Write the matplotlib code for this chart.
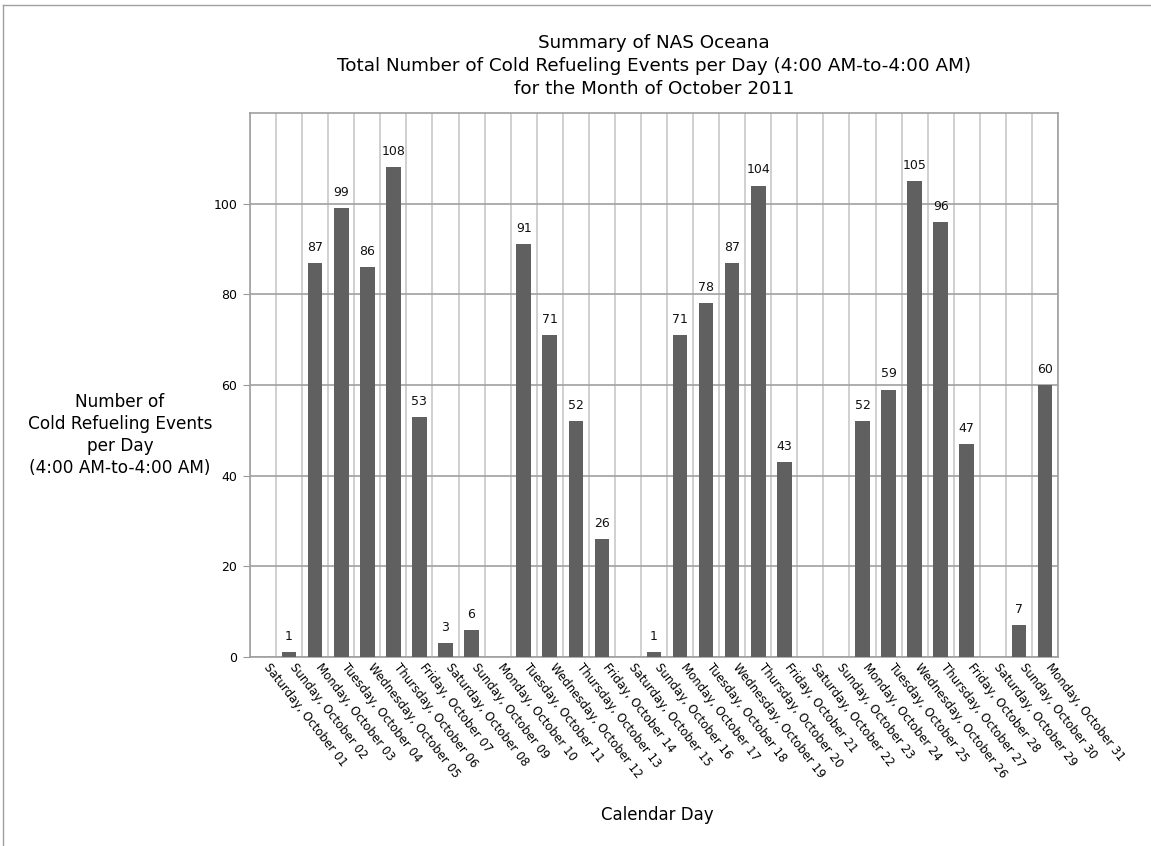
import matplotlib
matplotlib.use("Agg")
import matplotlib.pyplot as plt
import matplotlib.transforms as mtransforms
from matplotlib.lines import Line2D

# 每日冷加油次数 (2011年10月)
day_labels = [
    "Saturday, October 01", "Sunday, October 02", "Monday, October 03",
    "Tuesday, October 04", "Wednesday, October 05", "Thursday, October 06",
    "Friday, October 07", "Saturday, October 08", "Sunday, October 09",
    "Monday, October 10", "Tuesday, October 11", "Wednesday, October 12",
    "Thursday, October 13", "Friday, October 14", "Saturday, October 15",
    "Sunday, October 16", "Monday, October 17", "Tuesday, October 18",
    "Wednesday, October 19", "Thursday, October 20", "Friday, October 21",
    "Saturday, October 22", "Sunday, October 23", "Monday, October 24",
    "Tuesday, October 25", "Wednesday, October 26", "Thursday, October 27",
    "Friday, October 28", "Saturday, October 29", "Sunday, October 30",
    "Monday, October 31",
]
events = [0, 1, 87, 99, 86, 108, 53, 3, 6, 0, 91, 71, 52, 26, 0, 1,
          71, 78, 87, 104, 43, 0, 0, 52, 59, 105, 96, 47, 0, 7, 60]
y_ticks = [0, 20, 40, 60, 80, 100]

plt.rcParams['font.family'] = ['DejaVu Sans']

fig = plt.figure(figsize=(11.51, 8.46), dpi=100)
ax = fig.add_axes([250 / 1151, 1 - 657 / 846, 808 / 1151, 544 / 846])

x = list(range(len(events)))
ax.bar(x, events, width=0.56, color='#606060', zorder=3)

# 柱顶数值
for xi, v in zip(x, events):
    if v > 0:
        ax.text(xi, v + 2.0, str(v), ha='center', va='bottom', fontsize=9, color='#111111', zorder=4)

ax.set_xlim(-0.5, len(events) - 0.5)
ax.set_ylim(0, 120)
ax.set_yticks(y_ticks)
ax.set_yticklabels([str(t) for t in y_ticks], fontsize=9)

ax.set_xticks(x)
ax.set_xticklabels(day_labels, rotation=-52, ha='left', va='top',
                   rotation_mode='anchor', fontsize=8.5)
ax.tick_params(axis='x', length=0, pad=3)
ax.tick_params(axis='y', length=5, color='#999999', pad=4)

# 刻度标签向右挪一点
offset = mtransforms.ScaledTranslation(8 / 100, 0, fig.dpi_scale_trans)
for lab in ax.get_xticklabels():
    lab.set_transform(lab.get_transform() + offset)

# 网格线
ax.set_xticks([i - 0.5 for i in range(len(events) + 1)], minor=True)
ax.tick_params(axis='x', which='minor', length=0)
ax.grid(True, axis='x', which='minor', color='#c8c8c8', linewidth=1.2, zorder=0)
ax.grid(True, axis='y', which='major', color='#a0a0a0', linewidth=1.2, zorder=0)
for s in ax.spines.values():
    s.set_color('#a0a0a0')
    s.set_linewidth(1.2)

fig.text(654 / 1151, 1 - 43 / 846, "Summary of NAS Oceana", ha='center', va='center', fontsize=13.2)
fig.text(654 / 1151, 1 - 66 / 846, "Total Number of Cold Refueling Events per Day (4:00 AM-to-4:00 AM)",
         ha='center', va='center', fontsize=13.2)
fig.text(654 / 1151, 1 - 89 / 846, "for the Month of October 2011", ha='center', va='center', fontsize=13.2)

fig.text(120 / 1151, 1 - 435 / 846, "Number of\nCold Refueling Events\nper Day\n(4:00 AM-to-4:00 AM)",
         ha='center', va='center', fontsize=12.2, linespacing=1.3)
fig.text(657 / 1151, 1 - 815 / 846, "Calendar Day", ha='center', va='center', fontsize=12)

# 外框 (左、上)
fig.add_artist(Line2D([3 / 1151, 3 / 1151], [0, 1 - 5 / 846], transform=fig.transFigure, color='#a0a0a0', lw=1))
fig.add_artist(Line2D([3 / 1151, 1], [1 - 5 / 846, 1 - 5 / 846], transform=fig.transFigure, color='#a0a0a0', lw=1))

fig.savefig("out.png", dpi=100)
